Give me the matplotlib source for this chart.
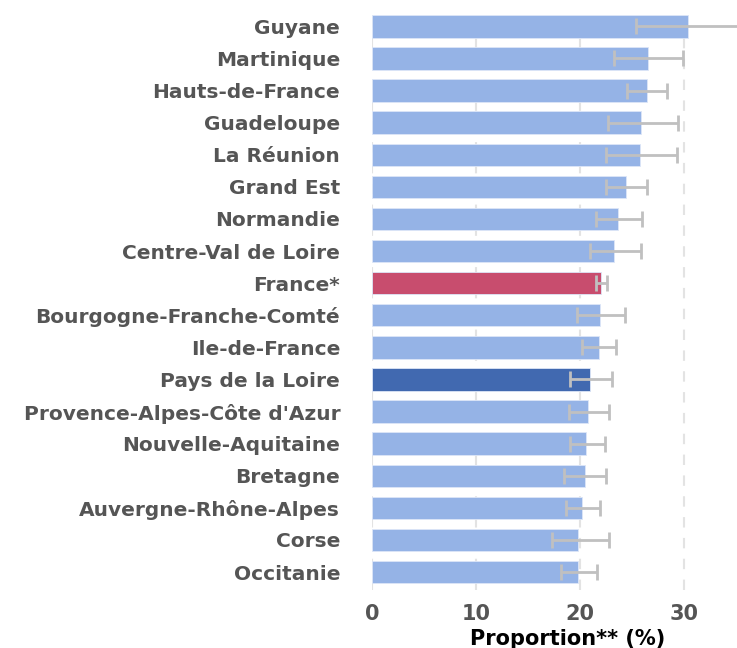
import matplotlib

matplotlib.use("Agg")
import matplotlib.pyplot as plt
import numpy as np

plt.rcParams["font.family"] = ["DejaVu Sans"]

regions = [
    "Guyane", "Martinique", "Hauts-de-France", "Guadeloupe", "La Réunion",
    "Grand Est", "Normandie", "Centre-Val de Loire", "France*",
    "Bourgogne-Franche-Comté", "Ile-de-France", "Pays de la Loire",
    "Provence-Alpes-Côte d'Azur", "Nouvelle-Aquitaine", "Bretagne",
    "Auvergne-Rhône-Alpes", "Corse", "Occitanie",
]
proportion = [30.4, 26.5, 26.4, 25.9, 25.8, 24.4, 23.65, 23.3, 22.0,
              21.9, 21.8, 21.0, 20.8, 20.6, 20.45, 20.2, 19.85, 19.8]
ci_low = [25.4, 23.3, 24.5, 22.7, 22.5, 22.5, 21.5, 21.0, 21.5,
          19.75, 20.2, 19.0, 18.9, 19.0, 18.5, 18.65, 17.3, 18.15]
ci_high = [36.5, 29.9, 28.4, 29.45, 29.35, 26.4, 26.0, 25.9, 22.6,
           24.3, 23.5, 23.05, 22.8, 22.4, 22.5, 21.9, 22.75, 21.6]

LIGHT = "#95b3e6"
colors = {"France*": "#c84d6e", "Pays de la Loire": "#4169b0"}
bar_colors = [colors.get(r, LIGHT) for r in regions]

fig = plt.figure(figsize=(7.37, 6.48), dpi=100)
ax = fig.add_axes([0.505, 0.09, 0.495, 0.899])

y = np.arange(len(regions))
vals = np.array(proportion)
err = np.array([vals - np.array(ci_low), np.array(ci_high) - vals])

ax.barh(y, vals, height=0.7, color=bar_colors, edgecolor="#dde6f7",
        linewidth=0.6, zorder=2)
ax.errorbar(vals, y, xerr=err, fmt="none", ecolor="#c0c0c0", elinewidth=2,
            capsize=6, capthick=2, zorder=3)

ax.set_xlim(0, 35.1)
ax.set_ylim(len(regions) - 0.45, -0.6)
ax.set_xticks([0, 10, 20, 30])
ax.set_yticks(y)
ax.set_yticklabels(regions)
ax.grid(axis="x", linestyle=(0, (5, 5)), color="#e3e3e3", linewidth=1.5, zorder=0)
ax.grid(axis="y", visible=False)
for s in ax.spines.values():
    s.set_visible(False)
ax.tick_params(axis="both", length=0, labelcolor="#555555")
ax.tick_params(axis="y", pad=23)
ax.tick_params(axis="x", pad=10)
for lab in ax.get_yticklabels():
    lab.set_fontsize(14.5)
    lab.set_fontweight("bold")
for lab in ax.get_xticklabels():
    lab.set_fontsize(15)
    lab.set_fontweight("bold")
ax.set_xlabel("Proportion** (%)", fontsize=15, fontweight="bold", labelpad=4)
ax.xaxis.label.set_x(0.535)

fig.savefig("out.png")
